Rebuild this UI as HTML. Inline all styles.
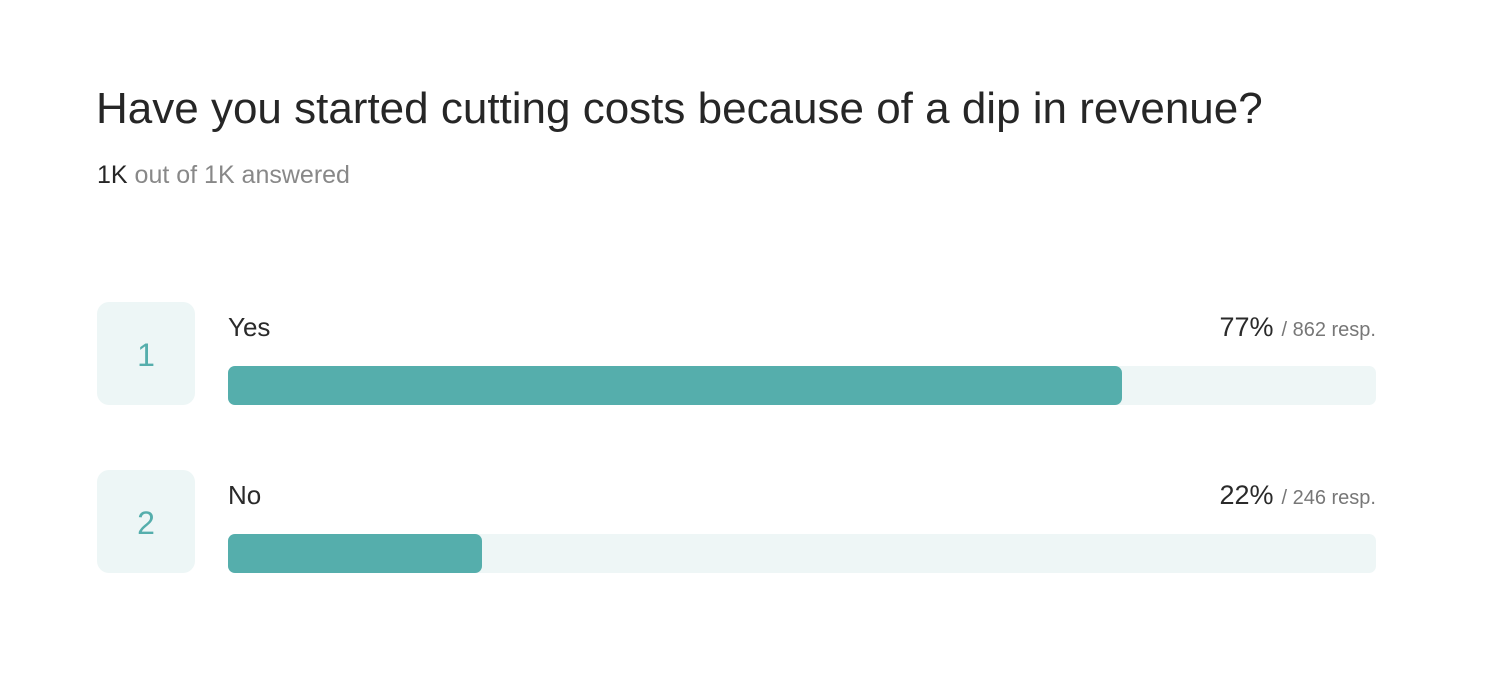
<!DOCTYPE html>
<html><head><style>
body{margin:0;width:1504px;height:700px;background:#fff;font-family:"Liberation Sans",sans-serif;position:relative;overflow:hidden}
.a{position:absolute;white-space:nowrap}
.box{position:absolute;left:97px;width:98px;height:103px;background:#edf6f6;border-radius:12px;color:#55aeac;font-size:32px;text-align:center;line-height:106px}
.bar{position:absolute;left:228px;width:1148px;height:39px;background:#eef6f6;border-radius:7px}
.fill{height:39px;background:#55aeac;border-radius:7px}
.lbl{font-size:26px;color:#2a2a2a}
.pct{font-size:27px;color:#2a2a2a;right:128px}
.pct span{font-size:20px;color:#777;margin-left:8px}
</style></head><body>
<div class="a" style="left:96px;top:84px;font-size:44px;color:#262626">Have you started cutting costs because of a dip in revenue?</div>
<div class="a" style="left:97px;top:161px;font-size:25px;color:#888"><span style="color:#262626">1K</span> out of 1K answered</div>

<div class="box" style="top:302px">1</div>
<div class="a lbl" style="left:228px;top:312px">Yes</div>
<div class="a pct" style="top:312px">77%<span>/ 862 resp.</span></div>
<div class="bar" style="top:366px"><div class="fill" style="width:894px"></div></div>

<div class="box" style="top:470px">2</div>
<div class="a lbl" style="left:228px;top:480px">No</div>
<div class="a pct" style="top:480px">22%<span>/ 246 resp.</span></div>
<div class="bar" style="top:534px"><div class="fill" style="width:254px"></div></div>
</body></html>
